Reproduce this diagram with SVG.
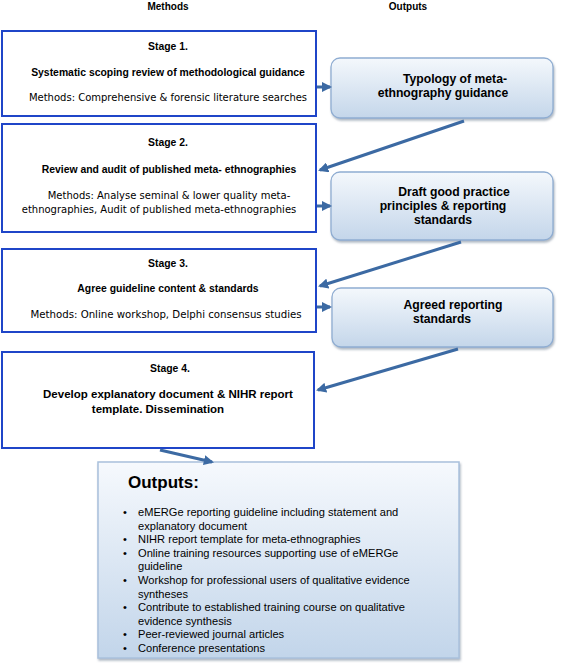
<svg xmlns="http://www.w3.org/2000/svg" width="567" height="671" viewBox="0 0 567 671">
<defs>
<linearGradient id="g1" x1="0" y1="0" x2="0" y2="1">
<stop offset="0" stop-color="#f4f8fc"/>
<stop offset="1" stop-color="#c4d6ea"/>
</linearGradient>
<linearGradient id="g2" x1="0" y1="0" x2="0" y2="1">
<stop offset="0" stop-color="#f6f9fd"/>
<stop offset="1" stop-color="#c2d5ea"/>
</linearGradient>
<marker id="ah" viewBox="0 0 10 10" refX="8" refY="5" markerWidth="3.4" markerHeight="3.4" orient="auto" markerUnits="strokeWidth">
<path d="M0,0 L10,5 L0,10 z" fill="#3c6aa3"/>
</marker>
<filter id="sh" x="-5%" y="-5%" width="110%" height="115%">
<feDropShadow dx="1" dy="2" stdDeviation="1.2" flood-color="#7a8a9c" flood-opacity="0.6"/>
</filter>
</defs>
<style>
.stage{fill:#fff;stroke:#1f45c8;stroke-width:2}
.out{fill:url(#g1);stroke:#8fadd2;stroke-width:1.3}
.b{font-family:"Liberation Sans",Arial,sans-serif;font-weight:bold;fill:#000}
.r{font-family:"DejaVu Sans","Liberation Sans",sans-serif;fill:#000}
.o{font-family:"Liberation Sans",Arial,sans-serif;font-weight:bold;fill:#000;font-size:12.2px;text-anchor:middle}
.t{font-family:"Liberation Sans",Arial,sans-serif;fill:#000;font-size:11.1px}
.conn{stroke:#3c6aa3;stroke-width:3;fill:none;marker-end:url(#ah)}
</style>
<g id="headers">
<text class="b" x="168" y="10" font-size="10" text-anchor="middle">Methods</text>
<text class="b" x="408" y="10" font-size="10" text-anchor="middle">Outputs</text>
</g>
<g id="stage1">
<rect class="stage" x="2" y="31" width="314" height="85"/>
<text class="b" x="168" y="50" font-size="10.4" text-anchor="middle">Stage 1.</text>
<text class="b" x="168" y="76" font-size="10.4" text-anchor="middle">Systematic scoping review of methodological guidance</text>
<text class="r" x="168" y="101" font-size="10" text-anchor="middle">Methods: Comprehensive &amp; forensic literature searches</text>
</g>
<g id="typology">
<rect class="out" x="331" y="58" width="222" height="60" rx="9" filter="url(#sh)"/>
<text class="o" x="455" y="83">Typology of meta-</text>
<text class="o" x="443" y="97">ethnography guidance</text>
</g>
<g id="stage2">
<rect class="stage" x="2" y="124" width="314" height="108"/>
<text class="b" x="168" y="146" font-size="10.4" text-anchor="middle">Stage 2.</text>
<text class="b" x="169" y="173" font-size="10.4" text-anchor="middle">Review and audit of published meta- ethnographies</text>
<text class="r" x="169" y="199" font-size="10" text-anchor="middle">Methods: Analyse seminal &amp; lower quality meta-</text>
<text class="r" x="159" y="213" font-size="10" text-anchor="middle">ethnographies, Audit of published meta-ethnographies</text>
</g>
<g id="draft">
<rect class="out" x="331" y="172" width="222" height="68" rx="9" filter="url(#sh)"/>
<text class="o" x="454" y="196">Draft good practice</text>
<text class="o" x="443" y="210">principles &amp; reporting</text>
<text class="o" x="443" y="224">standards</text>
</g>
<g id="stage3">
<rect class="stage" x="2" y="249" width="314" height="83"/>
<text class="b" x="168" y="267" font-size="10.4" text-anchor="middle">Stage 3.</text>
<text class="b" x="168" y="292" font-size="10.4" text-anchor="middle">Agree guideline content &amp; standards</text>
<text class="r" x="166" y="318" font-size="10.2" text-anchor="middle">Methods: Online workshop, Delphi consensus studies</text>
</g>
<g id="agreed">
<rect class="out" x="332" y="288" width="221" height="59" rx="9" filter="url(#sh)"/>
<text class="o" x="453" y="309">Agreed reporting</text>
<text class="o" x="442" y="323">standards</text>
</g>
<g id="stage4">
<rect class="stage" x="2" y="352" width="312" height="96"/>
<text class="b" x="170" y="372" font-size="10.4" text-anchor="middle">Stage 4.</text>
<text class="b" x="168" y="398" font-size="11.5" text-anchor="middle">Develop explanatory document &amp; NIHR report</text>
<text class="b" x="158" y="413" font-size="11.5" text-anchor="middle">template. Dissemination</text>
</g>
<g id="outputs">
<rect x="98" y="462" width="361" height="196" fill="url(#g2)" stroke="#a9c0dc" stroke-width="1.5" filter="url(#sh)"/>
<text class="b" x="128" y="488" font-size="17">Outputs:</text>
<g class="t">
<text x="123" y="516">•</text><text x="138" y="516">eMERGe reporting guideline including statement and</text>
<text x="138" y="530">explanatory document</text>
<text x="123" y="543">•</text><text x="138" y="543">NIHR report template for meta-ethnographies</text>
<text x="123" y="557">•</text><text x="138" y="557">Online training resources supporting use of eMERGe</text>
<text x="138" y="570">guideline</text>
<text x="123" y="584">•</text><text x="138" y="584">Workshop for professional users of qualitative evidence</text>
<text x="138" y="598">syntheses</text>
<text x="123" y="611">•</text><text x="138" y="611">Contribute to established training course on qualitative</text>
<text x="138" y="625">evidence synthesis</text>
<text x="123" y="638">•</text><text x="138" y="638">Peer-reviewed journal articles</text>
<text x="123" y="652">•</text><text x="138" y="652">Conference presentations</text>
</g>
</g>
<g id="connectors">
<line class="conn" x1="317" y1="87" x2="330" y2="87"/>
<line class="conn" x1="464" y1="121" x2="320" y2="170"/>
<line class="conn" x1="317" y1="206" x2="330" y2="206"/>
<line class="conn" x1="461" y1="242" x2="320" y2="286"/>
<line class="conn" x1="317" y1="307" x2="330" y2="307"/>
<line class="conn" x1="458" y1="349" x2="318" y2="390"/>
<line class="conn" x1="160" y1="450" x2="212" y2="462"/>
</g>
</svg>
